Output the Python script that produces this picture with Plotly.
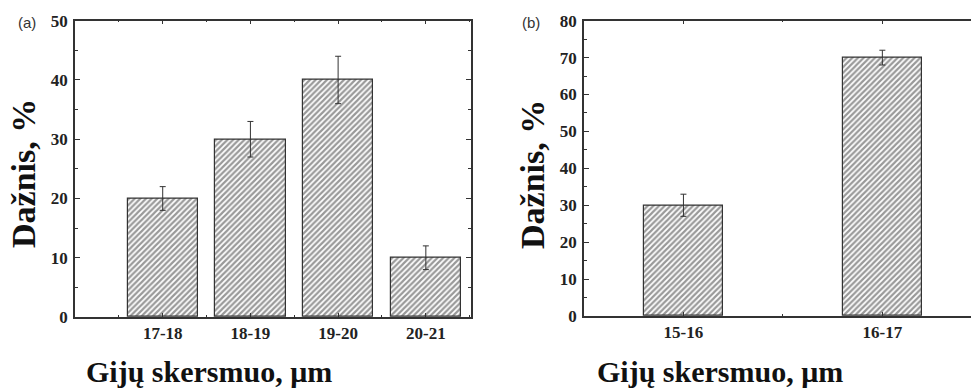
import plotly.graph_objects as go

W, H = 971, 390

cats_a = ["17-18", "18-19", "19-20", "20-21"]
vals_a = [20, 30, 40, 10]
err_a = [2, 3, 4, 2]

cats_b = ["15-16", "16-17"]
vals_b = [30, 70]
err_b = [3, 2]

y_title = "Dažnis, %"
x_title = "Gijų skersmuo, μm"

INK = "#333333"
SERIF = "Liberation Serif"

def px(x):
    return x / W

def py(y):
    return 1 - y / H

bar_style = dict(
    color="white",
    line=dict(color=INK, width=1.2),
    pattern=dict(shape="/", size=4, solidity=0.55, fgcolor="#333333", bgcolor="white"),
)

fig = go.Figure()
fig.add_trace(go.Bar(
    x=list(range(1, len(cats_a) + 1)), y=vals_a, width=0.8,
    marker=bar_style,
    error_y=dict(type="data", array=err_a, visible=True, color=INK, thickness=1, width=3),
    xaxis="x", yaxis="y", showlegend=False,
))
fig.add_trace(go.Bar(
    x=list(range(1, len(cats_b) + 1)), y=vals_b, width=0.4,
    marker=bar_style,
    error_y=dict(type="data", array=err_b, visible=True, color=INK, thickness=1, width=3),
    xaxis="x2", yaxis="y2", showlegend=False,
))

tickfont = dict(family=SERIF, size=17, color="#222222", weight="bold")

common_x = dict(
    showline=True, linecolor=INK, linewidth=1.5, mirror="allticks",
    ticks="inside", ticklen=4, tickcolor=INK, tickwidth=1,
    showgrid=False, zeroline=False, tickfont=tickfont,
    minor=dict(ticks="inside", ticklen=2, tickcolor=INK, tick0=0.5, dtick=1),
    fixedrange=True, automargin=False,
)
common_y = dict(
    showline=True, linecolor=INK, linewidth=1.5,
    ticks="inside", ticklen=5, tickcolor=INK, tickwidth=1,
    showgrid=False, zeroline=False, tickfont=tickfont, dtick=10, tick0=0,
    minor=dict(ticks="inside", ticklen=3, tickcolor=INK, dtick=5),
    ticklabelstandoff=2, automargin=False,
)

fig.update_layout(
    width=W, height=H,
    margin=dict(l=0, r=0, t=0, b=0, pad=0, autoexpand=False),
    paper_bgcolor="white", plot_bgcolor="white",
    bargap=0,
    xaxis=dict(common_x, domain=[px(75), px(471)], range=[0, 4.515],
               tickvals=list(range(1, len(cats_a) + 1)), ticktext=cats_a, anchor="y"),
    yaxis=dict(common_y, domain=[py(317), py(20.7)], range=[0, 50], mirror="allticks", anchor="x"),
    xaxis2=dict(common_x, domain=[px(584), 1.0], range=[0.5, 2.4457],
                tickvals=list(range(1, len(cats_b) + 1)), ticktext=cats_b, anchor="y2"),
    yaxis2=dict(common_y, domain=[py(316), py(20.7)], range=[0, 80], mirror=False, anchor="x2"),
)

ann = []
for x, y, t in [(27, 22, "(a)"), (531, 22, "(b)")]:
    ann.append(dict(x=px(x), y=py(y), xref="paper", yref="paper", text=t, showarrow=False,
                    font=dict(family="Liberation Sans", size=15, color="#333333"),
                    xanchor="center", yanchor="middle"))
for x, y in [(23, 174), (533, 175)]:
    ann.append(dict(x=px(x), y=py(y), xref="paper", yref="paper", text=y_title, showarrow=False,
                    textangle=-90,
                    font=dict(family=SERIF, size=34, color="#111111", weight="bold"),
                    xanchor="center", yanchor="middle"))
for x, y in [(209, 371), (720, 371)]:
    ann.append(dict(x=px(x), y=py(y), xref="paper", yref="paper", text=x_title, showarrow=False,
                    font=dict(family=SERIF, size=30, color="#111111", weight="bold"),
                    xanchor="center", yanchor="middle"))
fig.update_layout(annotations=ann)

fig.write_html("out.html")
